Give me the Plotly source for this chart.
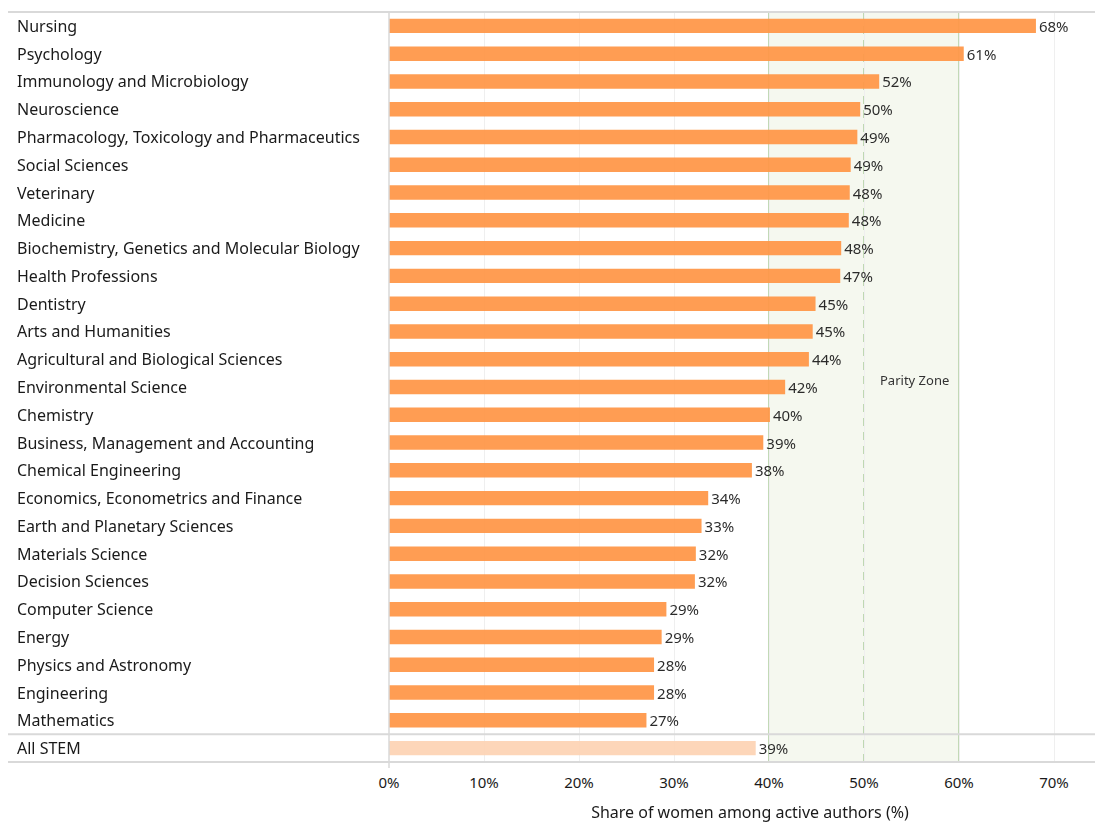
import plotly.graph_objects as go

categories = [
    "Nursing", "Psychology", "Immunology and Microbiology", "Neuroscience",
    "Pharmacology, Toxicology and Pharmaceutics", "Social Sciences", "Veterinary",
    "Medicine", "Biochemistry, Genetics and Molecular Biology", "Health Professions",
    "Dentistry", "Arts and Humanities", "Agricultural and Biological Sciences",
    "Environmental Science", "Chemistry", "Business, Management and Accounting",
    "Chemical Engineering", "Economics, Econometrics and Finance",
    "Earth and Planetary Sciences", "Materials Science", "Decision Sciences",
    "Computer Science", "Energy", "Physics and Astronomy", "Engineering",
    "Mathematics", "All STEM",
]
values = [68.1, 60.5, 51.6, 49.6, 49.3, 48.6, 48.5, 48.4, 47.6, 47.5,
          44.9, 44.6, 44.2, 41.7, 40.1, 39.4, 38.2, 33.6, 32.9, 32.3,
          32.2, 29.2, 28.7, 27.9, 27.9, 27.1, 38.6]
value_labels = ["68%", "61%", "52%", "50%", "49%", "49%", "48%", "48%", "48%", "47%",
                "45%", "45%", "44%", "42%", "40%", "39%", "38%", "34%", "33%", "32%",
                "32%", "29%", "29%", "28%", "28%", "27%", "39%"]
tick_vals = [0, 10, 20, 30, 40, 50, 60, 70]
tick_text = ["0%", "10%", "20%", "30%", "40%", "50%", "60%", "70%"]
parity_low, parity_mid, parity_high = 40, 50, 60

FONT = "Noto Sans"
OFF = 8  # page body offset
W, H = 1103, 815
ML, MR, MT, MB = 389 - OFF, 0, 12 - OFF, 823 - 762
PW = W - ML - MR
PH = H - MT - MB
PX_PER_UNIT = 9.5

bar_colors = ["#ff9646"] * (len(categories) - 1) + ["#fdd3b4"]
idx = list(range(len(categories)))

fig = go.Figure()
fig.add_trace(go.Bar(
    x=values, y=idx, orientation="h",
    marker=dict(color=bar_colors, line=dict(width=0)),
    opacity=0.93,
    width=0.52,
    text=value_labels, textposition="outside", cliponaxis=False,
    constraintext="none",
    textfont=dict(family=FONT, size=15, color="#1a1a1a"),
    hoverinfo="skip",
))

shapes = []
# parity zone
shapes.append(dict(type="rect", xref="x", yref="paper", x0=parity_low, x1=parity_high,
                   y0=0, y1=1, fillcolor="#f5f8ef", line=dict(width=0), layer="below"))
for xv in (parity_low, parity_high):
    shapes.append(dict(type="line", xref="x", yref="paper", x0=xv, x1=xv, y0=0, y1=1,
                       line=dict(color="#c2d9b6", width=2), layer="below"))
shapes.append(dict(type="line", xref="x", yref="paper", x0=parity_mid, x1=parity_mid, y0=0, y1=1,
                   line=dict(color="#bfd8b2", width=2, dash="8px,6px"), layer="below"))
# horizontal lines
x_left = (8 - 389) / PW
for yp in (1, 0):
    shapes.append(dict(type="line", xref="paper", yref="paper", x0=x_left, x1=1, y0=yp, y1=yp,
                       line=dict(color="#d9d9d9", width=2)))
shapes.append(dict(type="line", xref="paper", yref="y", x0=x_left, x1=1,
                   y0=len(categories) - 1.5, y1=len(categories) - 1.5,
                   line=dict(color="#d9d9d9", width=2)))
# vertical axis line
shapes.append(dict(type="line", xref="paper", yref="paper", x0=0, x1=0, y0=-6 / PH, y1=1,
                   line=dict(color="#d9d9d9", width=1.5)))

annotations = []
for i, c in enumerate(categories):
    annotations.append(dict(xref="paper", yref="y", x=(15 - 389) / PW, y=i, text=c,
                            showarrow=False, xanchor="left", yanchor="middle",
                            font=dict(family=FONT, size=16, color="#1a1a1a")))
annotations.append(dict(xref="x", yref="y", x=55.3, y=12.75, text="Parity Zone",
                        showarrow=False, xanchor="center", yanchor="middle",
                        font=dict(family=FONT, size=13, color="#333333")))

fig.update_layout(
    width=W, height=H,
    margin=dict(l=ML, r=MR, t=MT, b=MB),
    plot_bgcolor="white", paper_bgcolor="white",
    showlegend=False,
    shapes=shapes, annotations=annotations,
    xaxis=dict(range=[0, PW / PX_PER_UNIT], tickvals=tick_vals, ticktext=tick_text,
               showgrid=True, gridcolor="#efefef", gridwidth=1, zeroline=False,
               showline=False, ticks="", ticklabelstandoff=10,
               tickfont=dict(family=FONT, size=15, color="#1a1a1a"),
               title=dict(text="Share of women among active authors (%)", standoff=15,
                          font=dict(family=FONT, size=16, color="#1a1a1a"))),
    yaxis=dict(range=[len(categories) - 0.5, -0.5], showticklabels=False, showgrid=False,
               zeroline=False, showline=False, ticks=""),
)

fig.write_html("out.html",
               post_script="document.documentElement.style.overflow='hidden';"
                           "document.body.style.overflow='hidden';")
